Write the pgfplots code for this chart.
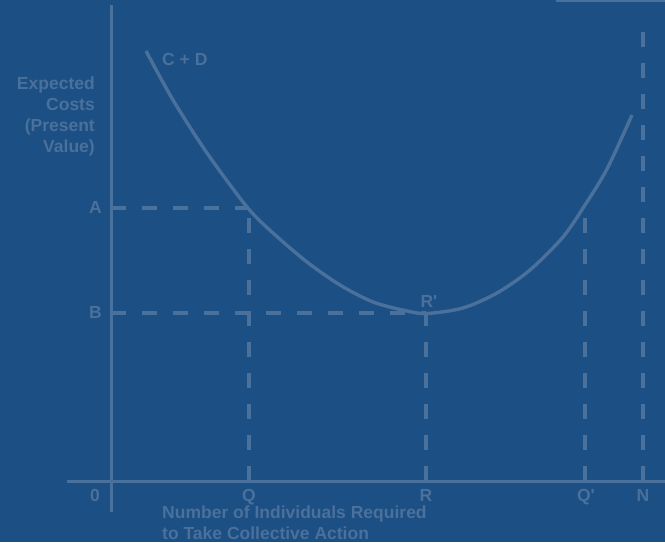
\documentclass[border=0pt]{standalone}
\usepackage{fontspec}
\setmainfont{Liberation Sans}
\usepackage{pgfplots}
\pgfplotsset{compat=1.18}

\definecolor{bg}{HTML}{1C4F83}
\definecolor{ln}{HTML}{4A709C}

\begin{document}
\begin{tikzpicture}
\begin{axis}[
    scale only axis,
    width=665pt, height=542pt,
    xmin=0, xmax=665, ymin=0, ymax=542,
    hide axis,
    clip=true,
]
% background
\addplot[fill=bg, draw=none] coordinates {(0,0) (665,0) (665,542) (0,542)} --cycle;

% axes
\addplot[ln, line width=3pt] coordinates {(111,537) (111,30)};
\addplot[ln, line width=3pt] coordinates {(67,61) (665,61)};
\addplot[ln, line width=3pt] coordinates {(556,541) (665,541)};

% dashed guides
\addplot[ln, line width=4pt, dash pattern=on 15pt off 16pt] coordinates {(111,334) (249,334)};
\addplot[ln, line width=4pt, dash pattern=on 15pt off 16pt] coordinates {(249,61) (249,334)};
\addplot[ln, line width=4pt, dash pattern=on 15pt off 16pt] coordinates {(111,229) (426,229)};
\addplot[ln, line width=4pt, dash pattern=on 15pt off 16pt] coordinates {(426,61) (426,229)};
\addplot[ln, line width=4pt, dash pattern=on 15pt off 16pt] coordinates {(585,61) (585,336)};
\addplot[ln, line width=4pt, dash pattern=on 15pt off 16pt] coordinates {(643,61) (643,514)};

% C + D curve
\addplot[ln, line width=3.4pt, smooth, tension=0.5] coordinates {
    (146,491) (173,442) (207,389) (247,335) (273,309) (307,280) (340,257)
    (373,240) (407,231) (427,228.5) (463,234) (497,249) (530,272) (563,305)
    (585,337) (607,373) (632,427)
};

% labels
\begin{scope}[every node/.style={text=ln, font=\fontsize{17.5}{21}\selectfont\bfseries, inner sep=0pt}]
\node[anchor=base] at (axis cs:95,41) {0};
\node[anchor=base] at (axis cs:249,41) {Q};
\node[anchor=base] at (axis cs:426,41) {R};
\node[anchor=base] at (axis cs:586,41) {Q\textquotesingle};
\node[anchor=base] at (axis cs:643,41) {N};
\node[anchor=base east] at (axis cs:102,328) {A};
\node[anchor=base east] at (axis cs:102,223) {B};
\node[anchor=base west] at (axis cs:162,476) {C + D};
\node[anchor=base] at (axis cs:429,234) {R\textquotesingle};
\node[anchor=east, align=right] at (axis cs:95,426) {Expected\\Costs\\(Present\\Value)};
\node[anchor=west, align=left] at (axis cs:162,19) {Number of Individuals Required\\to Take Collective Action};
\end{scope}
\end{axis}
\end{tikzpicture}
\end{document}
